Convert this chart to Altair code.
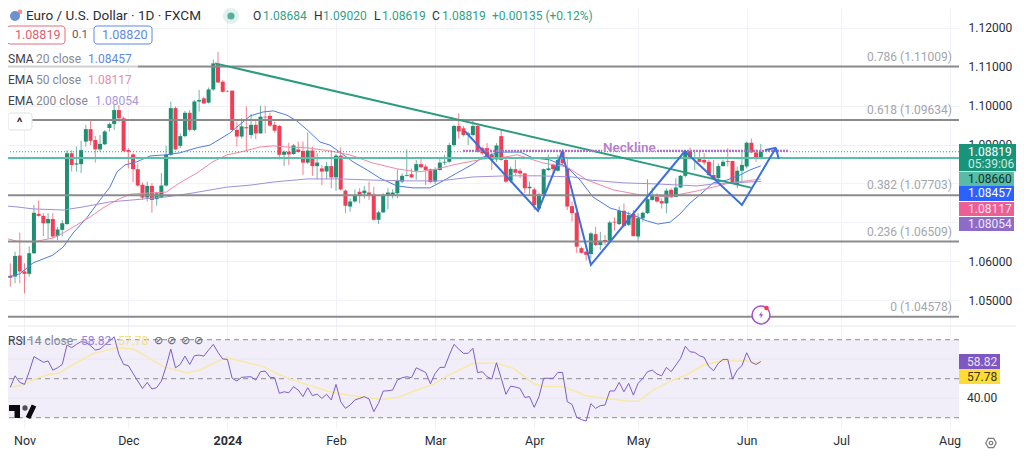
import altair as alt
import pandas as pd

opens = [1.0563,1.0561,1.0615,1.0574,1.0568,1.0621,1.0722,1.0717,1.0698,1.0709,
1.0665,1.0681,1.0696,1.0878,1.0849,1.0850,1.0908,1.0940,1.0912,1.0888,
1.0901,1.0943,1.0953,1.0989,1.0968,1.0886,1.0875,1.0837,1.0797,1.0764,
1.0794,1.0760,1.0764,1.0795,1.0874,1.0994,1.0897,1.0922,1.0982,1.0938,
1.1011,1.1019,1.1008,1.1042,1.1108,1.1062,1.1037,1.1039,1.0938,1.0921,
1.0945,1.0925,1.0951,1.0929,1.0972,1.0974,1.0951,1.0948,1.0874,1.0882,
1.0876,1.0888,1.0884,1.0854,1.0885,1.0845,1.0839,1.0831,1.0845,1.0816,
1.0872,1.0782,1.0741,1.0754,1.0779,1.0775,1.0777,1.0772,1.0707,1.0726,
1.0771,1.0770,1.0775,1.0805,1.0820,1.0824,1.0833,1.0850,1.0844,1.0837,
1.0805,1.0835,1.0854,1.0856,1.0899,1.0948,1.0942,1.0925,1.0925,1.0948,
1.0891,1.0891,1.0874,1.0862,1.0922,1.0861,1.0807,1.0837,1.0833,1.0826,
1.0788,1.0785,1.0736,1.0772,1.0835,1.0848,1.0833,1.0882,1.0839,1.0742,
1.0725,1.0634,1.0625,1.0619,1.0670,1.0642,1.0655,1.0653,1.0702,1.0696,
1.0730,1.0694,1.0722,1.0664,1.0711,1.0724,1.0758,1.0766,1.0755,1.0749,
1.0784,1.0766,1.0790,1.0820,1.0884,1.0867,1.0868,1.0861,1.0856,1.0822,
1.0814,1.0845,1.0858,1.0858,1.0799,1.0833,1.0844,1.0905,1.0880,1.0865]

highs = [1.0595,1.0625,1.0674,1.0595,1.0638,1.0745,1.0756,1.0724,1.0724,1.0724,
1.0689,1.0706,1.0886,1.0886,1.0895,1.0910,1.0951,1.0964,1.0922,1.0925,
1.0938,1.0957,1.1002,1.1002,1.0972,1.0891,1.0878,1.0852,1.0803,1.0805,
1.0801,1.0779,1.0827,1.0897,1.1011,1.0998,1.0929,1.0987,1.0989,1.1015,
1.1041,1.1024,1.1047,1.1119,1.1139,1.1066,1.1040,1.1039,1.0959,1.0968,
1.0998,1.0979,1.0965,1.1000,1.1000,1.0982,1.0959,1.0951,1.0885,1.0905,
1.0902,1.0908,1.0908,1.0931,1.0895,1.0878,1.0848,1.0856,1.0885,1.0876,
1.0893,1.0785,1.0762,1.0785,1.0788,1.0794,1.0805,1.0792,1.0730,1.0775,
1.0788,1.0785,1.0837,1.0826,1.0888,1.0839,1.0861,1.0865,1.0850,1.0839,
1.0842,1.0865,1.0874,1.0904,1.0951,1.0981,1.0948,1.0934,1.0962,1.0951,
1.0895,1.0904,1.0882,1.0904,1.0940,1.0865,1.0844,1.0862,1.0839,1.0828,
1.0805,1.0790,1.0777,1.0839,1.0874,1.0852,1.0874,1.0886,1.0865,1.0754,
1.0728,1.0638,1.0628,1.0676,1.0689,1.0676,1.0668,1.0705,1.0713,1.0741,
1.0749,1.0728,1.0732,1.0724,1.0728,1.0811,1.0790,1.0775,1.0762,1.0788,
1.0788,1.0814,1.0822,1.0885,1.0893,1.0884,1.0885,1.0878,1.0862,1.0861,
1.0852,1.0862,1.0891,1.0859,1.0844,1.0882,1.0908,1.0916,1.0888,1.0902]

lows = [1.0535,1.0544,1.0544,1.0518,1.0561,1.0619,1.0715,1.0665,1.0659,1.0659,
1.0655,1.0664,1.0694,1.0831,1.0831,1.0827,1.0895,1.0899,1.0854,1.0882,
1.0899,1.0934,1.0938,1.0959,1.0882,1.0839,1.0803,1.0792,1.0758,1.0754,
1.0725,1.0743,1.0762,1.0792,1.0871,1.0886,1.0891,1.0919,1.0934,1.0935,
1.0985,1.1005,1.1006,1.1039,1.1058,1.1034,1.1035,1.0936,1.0895,1.0916,
1.0882,1.0916,1.0914,1.0928,1.0929,1.0946,1.0931,1.0862,1.0845,1.0848,
1.0874,1.0880,1.0822,1.0850,1.0820,1.0811,1.0796,1.0811,1.0788,1.0782,
1.0782,1.0724,1.0728,1.0751,1.0749,1.0762,1.0758,1.0705,1.0696,1.0724,
1.0734,1.0762,1.0762,1.0801,1.0818,1.0814,1.0810,1.0839,1.0796,1.0801,
1.0799,1.0833,1.0848,1.0854,1.0895,1.0916,1.0921,1.0899,1.0921,1.0880,
1.0874,1.0865,1.0835,1.0856,1.0859,1.0802,1.0802,1.0822,1.0814,1.0775,
1.0771,1.0732,1.0732,1.0771,1.0833,1.0825,1.0831,1.0848,1.0732,1.0702,
1.0622,1.0621,1.0602,1.0608,1.0640,1.0629,1.0642,1.0651,1.0679,1.0693,
1.0688,1.0691,1.0664,1.0651,1.0702,1.0722,1.0756,1.0751,1.0736,1.0724,
1.0762,1.0765,1.0788,1.0816,1.0861,1.0835,1.0854,1.0848,1.0818,1.0809,
1.0809,1.0844,1.0844,1.0799,1.0788,1.0801,1.0839,1.0878,1.0856,1.0862]

closes = [1.0558,1.0614,1.0574,1.0568,1.0621,1.0725,1.0717,1.0698,1.0709,1.0664,
1.0682,1.0698,1.0878,1.0848,1.0852,1.0886,1.0940,1.0910,1.0888,1.0902,
1.0934,1.0953,1.0989,1.0968,1.0884,1.0882,1.0837,1.0795,1.0764,1.0794,
1.0758,1.0775,1.0795,1.0874,1.0994,1.0888,1.0922,1.0982,1.0938,1.1011,
1.1015,1.1006,1.1042,1.1109,1.1060,1.1036,1.1038,1.0938,1.0921,1.0947,
1.0942,1.0951,1.0929,1.0972,1.0970,1.0949,1.0936,1.0874,1.0882,1.0875,
1.0898,1.0881,1.0854,1.0885,1.0845,1.0854,1.0831,1.0845,1.0816,1.0872,
1.0785,1.0743,1.0754,1.0771,1.0771,1.0782,1.0771,1.0707,1.0726,1.0771,
1.0777,1.0777,1.0808,1.0820,1.0822,1.0816,1.0850,1.0842,1.0835,1.0804,
1.0837,1.0854,1.0856,1.0899,1.0948,1.0934,1.0925,1.0929,1.0948,1.0882,
1.0878,1.0869,1.0861,1.0898,1.0861,1.0805,1.0838,1.0828,1.0826,1.0788,
1.0792,1.0745,1.0772,1.0837,1.0839,1.0837,1.0861,1.0852,1.0741,1.0724,
1.0638,1.0622,1.0617,1.0672,1.0642,1.0653,1.0651,1.0700,1.0700,1.0730,
1.0691,1.0719,1.0665,1.0711,1.0725,1.0760,1.0769,1.0754,1.0749,1.0782,
1.0765,1.0790,1.0820,1.0884,1.0867,1.0868,1.0856,1.0854,1.0822,1.0811,
1.0845,1.0856,1.0856,1.0801,1.0833,1.0848,1.0905,1.0880,1.0865,1.08819]

sma_i = [-0.5,2.0,4.8,9.0,11.2,13.3,16.2,19.0,21.1,22.6,24.3,26.8,29.6,33.0,35.9,39.5,42.3,46.5,50.8,53.5,55.7,58.6,60.7,62.9,65.6,67.7,69.8,72.6,75.6,78.3,81.9,85.3,88.9,91.7,94.6,98.0,100.1,103.7,108,110.7,114.3,117.9,120.7,123.4,127.1,131.3,134.9,137.2,139.8,141.9,144,146.1,148.9,151.8,154.6,156.7,159]
sma_p = [1.0560,1.0568,1.0596,1.0616,1.0637,1.0673,1.0712,1.0758,1.0791,1.0830,1.0848,1.0856,1.0871,1.0874,1.0879,1.0892,1.0899,1.0930,1.0974,1.0984,1.0987,1.0976,1.0961,1.0938,1.0907,1.0899,1.0881,1.0856,1.0835,1.0814,1.0794,1.0789,1.0789,1.0807,1.0827,1.0850,1.0868,1.0881,1.0881,1.0866,1.0861,1.0843,1.0809,1.0766,1.0737,1.0722,1.0704,1.0696,1.0701,1.0722,1.0750,1.0771,1.0802,1.0809,1.0822,1.0835,1.08457]
ema50_i = [-0.5,1.4,4.8,9,11.2,14.1,16.9,19.6,22.6,25.4,29.6,33,35.9,39.5,42.9,45.9,48.7,52.9,55.7,58.6,62.9,67.7,71.9,76.8,81.9,86.2,89.6,93.8,98,101.6,103.7,107.4,112.9,117.9,122.2,127.7,133.4,139.1,145.5,148.9,152.5,156.1,159]
ema50_p = [1.0658,1.0652,1.0650,1.0660,1.0673,1.0694,1.0714,1.0737,1.0758,1.0773,1.0776,1.0778,1.0802,1.0827,1.0856,1.0874,1.0881,1.0894,1.0897,1.0894,1.0892,1.0884,1.0874,1.0853,1.0838,1.0830,1.0835,1.0848,1.0858,1.0866,1.0866,1.0874,1.0853,1.0843,1.0809,1.0784,1.0771,1.0766,1.0781,1.0791,1.0802,1.0807,1.08117]
ema200_i = [-0.5,1.4,4.8,11.2,15.4,21.1,26,33.2,38.7,45.9,50.8,55.7,62.9,69.8,76.8,84,91,98,105.2,112.2,119.2,122.8,129.8,137,145.5,148.9,152.5,159]
ema200_p = [1.0742,1.0740,1.0735,1.0732,1.0740,1.0753,1.0758,1.0766,1.0776,1.0791,1.0796,1.0804,1.0812,1.0812,1.0809,1.0807,1.0807,1.0817,1.0820,1.0820,1.0817,1.0809,1.0802,1.0799,1.0794,1.0799,1.0802,1.08054]

trend_i = [43.4,157.1]
trend_p = [1.1109,1.0789]
zig_i = [96.3,111.8,116.9,123,142.9,155,162.2]
zig_p = [1.0935,1.0730,1.0881,1.0591,1.0883,1.0745,1.0892]
barb_a_i = [159.9,162.2]
barb_a_p = [1.0886,1.0892]
barb_b_i = [162.2,162.8]
barb_b_p = [1.0892,1.0863]
neck_a_i = [95.9,125.4]
neck_b_i = [137,165]
neck_p = 1.0884

fib_prices = [1.11009,1.09634,1.07703,1.06509,1.04578]
fib_labels = ["0.786 (1.11009)","0.618 (1.09634)","0.382 (1.07703)","0.236 (1.06509)","0 (1.04578)"]
level_price = 1.0866
last_price = 1.08819

price_ticks = [1.12,1.11,1.10,1.09,1.06,1.05]
hidden_grid = [1.08,1.07]
month_ticks = [3,25,46,69,90,111,133,156,176,199]
month_labels = ["Nov","Dec","2024","Feb","Mar","Apr","May","Jun","Jul","Aug"]

rsi_vals = [45.6,51.5,48.1,47.1,53.6,61.3,59.9,58.4,59.1,54.4,55.6,57.3,67.3,65.9,67.6,69.0,68.6,66.9,64.7,65.2,67.3,69.3,71.5,62.5,57.3,56.7,52.7,48.8,45.0,48.1,44.7,45.4,48.8,56.2,65.2,55.6,57.3,61.6,57.3,61.8,62.1,61.6,64.7,67.6,63.5,60.1,59.9,50.2,48.8,50.7,50.9,51.0,49.3,53.6,53.9,50.7,50.5,42.5,43.3,42.8,45.9,44.2,40.8,45.4,41.3,42.1,39.9,42.0,39.1,47.1,38.2,34.8,36.5,39.1,39.9,40.8,39.6,33.1,37.4,43.7,43.8,44.2,49.3,
50.5,51,50.5,55.6,54.4,53.2,47.4,52.7,55.8,55.8,62.1,67.6,65.2,63,63,65.6,53.1,53.6,51,49.8,58.2,50.2,42,46.2,45.7,45,40.4,40.8,35.3,40.8,50.2,50.2,50.2,53.2,53.2,38.2,36.8,30.2,29,28.3,37.2,34.8,36.2,36.5,43.7,43.7,48.1,43.3,47.6,41.6,47.6,50.2,53.6,54.4,52.4,51.5,55.8,53.6,57,60.4,66.6,63.8,63.5,61.8,60.9,56.2,54.1,57.9,59.9,59.9,49.8,54.4,56.7,63.3,58.4,57.3,58.82]
rsi_ma_i = [-0.1,2.8,5.6,8.1,10.5,13.3,17.6,22.5,26.1,28.9,32.4,37.4,40.2,43,45.8,49.4,53.6,57.1,61.4,67.7,71.3,75.5,79,82.6,86.1,89.6,93.2,98.1,103.1,106.6,110.8,112.9,117.2,122.1,126.4,131.2,133.1,136.2,140.5,143.3,146.8,150.4,156,159]
rsi_ma_v = [45.6,46.8,50.2,52.2,53.1,57.3,63.0,65.9,65.2,61.3,56.2,53.1,54.4,57.9,60.9,58.7,56.2,51.9,48.1,43.3,41.6,40.3,39.4,40.8,44.2,47.1,52.2,57.9,57.9,55.3,47.6,46.1,45.9,41.1,39.9,38.5,38.5,44.2,49.5,51.9,57,59.1,59.2,57.78]

FONT = "Roboto"
UP, DOWN = "#1f8f74", "#ef3e55"
X_DOM = [-0.494, 200.99]
P_DOM = [1.01717, 1.12514]
R_DOM = [24.72, 240.1]
PW, PH = 951, 420
HEAD_Y = 16

xs = alt.Scale(domain=X_DOM, nice=False, zero=False, padding=0)
ps = alt.Scale(domain=P_DOM, nice=False, zero=False)
rs = alt.Scale(domain=R_DOM, nice=False, zero=False)

def X(f="i"):
    return alt.X(f"{f}:Q", scale=xs, axis=None)
def P(f="p"):
    return alt.Y(f"{f}:Q", scale=ps, axis=None)
def R(f="v"):
    return alt.Y(f"{f}:Q", scale=rs, axis=None)

def line(i, v, color, width, Yf=P, field="p", **kw):
    d = pd.DataFrame({"i": i, field: v})
    return alt.Chart(d).mark_line(color=color, strokeWidth=width, clip=False, **kw).encode(
        x=X(), y=Yf(field))

def hrule(price, color, width, **kw):
    return alt.Chart(pd.DataFrame({"p": [price]})).mark_rule(color=color, strokeWidth=width, **kw).encode(y=P())

def txt(s, px, py, color, size=12, align="left", **kw):
    return alt.Chart(pd.DataFrame({"t": [s]})).mark_text(
        font=FONT, fontSize=size, color=color, align=align, baseline="middle", **kw
    ).encode(x=alt.value(px - 8), y=alt.value(py - 8), text="t:N")

def box(x0, y0, x1, y1, **kw):
    return alt.Chart(pd.DataFrame({"a": [0]})).mark_rect(**kw).encode(
        x=alt.value(x0 - 8), x2=alt.value(x1 - 8), y=alt.value(y0 - 8), y2=alt.value(y1 - 8))

def seg(x0, y0, x1, y1, color, width):
    return alt.Chart(pd.DataFrame({"a": [0]})).mark_rule(color=color, strokeWidth=width).encode(
        x=alt.value(x0 - 8), x2=alt.value(x1 - 8), y=alt.value(y0 - 8), y2=alt.value(y1 - 8))

def pt(px, py, **kw):
    return alt.Chart(pd.DataFrame({"a": [0]})).mark_point(**kw).encode(
        x=alt.value(px - 8), y=alt.value(py - 8))

candles = pd.DataFrame({"i": range(len(opens)), "o": opens, "h": highs, "l": lows, "c": closes})
candles["dir"] = ["up" if c >= o else "down" for o, c in zip(opens, closes)]
dir_color = alt.Color("dir:N", scale=alt.Scale(domain=["up", "down"], range=[UP, DOWN]), legend=None)

label_expr = "{" + ",".join(f"{t}:'{l}'" for t, l in zip(month_ticks, month_labels)) + "}[datum.value]"
axes_layer = alt.Chart(pd.DataFrame({"i": [0], "p": [1.09]})).mark_point(opacity=0).encode(
    x=alt.X("i:Q", scale=xs, title=None, axis=alt.Axis(
        values=month_ticks, ticks=False, domain=False, labelPadding=6, labelFont=FONT, labelFontSize=12.5,
        labelColor="#2a2e39", grid=True, gridColor="#f0f2f7", gridWidth=1, labelFlush=False, labelOverlap=False,
        labelFontWeight={"condition": {"test": "datum.value == 46", "value": "bold"}, "value": "normal"},
        labelExpr=label_expr)),
    y=alt.Y("p:Q", scale=ps, title=None, axis=alt.Axis(
        orient="right", values=price_ticks, format=".5f", ticks=False, domain=False, labelPadding=9,
        labelFont=FONT, labelFontSize=12, labelColor="#2a2e39", grid=True, gridColor="#f0f2f7", labelOverlap=False)),
)
hidden_rules = alt.Chart(pd.DataFrame({"p": hidden_grid})).mark_rule(color="#f0f2f7", strokeWidth=1).encode(y=P())

wicks = alt.Chart(candles).mark_rule(strokeWidth=1, opacity=0.65).encode(x=X(), y=P("h"), y2="l:Q", color=dir_color)
bodies = alt.Chart(candles).mark_bar(size=4).encode(x=X(), y=P("o"), y2="c:Q", color=dir_color)

fib_df = pd.DataFrame({"p": fib_prices, "t": fib_labels})
fib_rules = alt.Chart(fib_df).mark_rule(color="#8b8b8b", strokeWidth=2).encode(y=P())
fib_text = alt.Chart(fib_df).mark_text(font=FONT, fontSize=12, color="#a3a6ad", align="right", dy=-10).encode(
    x=alt.value(944), y=P(), text="t:N")

tag_top = [1.0902,1.0830,1.0794,1.0753,1.0714]
tag_bot = [1.0832,1.0794,1.0755,1.0717,1.0678]
tag_col = ["#1a9479","#57bba5","#2962ff","#ec5f94","#8d6cc8"]
tag_right = [1016,1014,1014,1014,1014]
tag_rects = [alt.Chart(pd.DataFrame({"t": [a], "b": [b]})).mark_rect(color=c).encode(
    x=alt.value(951), x2=alt.value(r - 8), y=P("t"), y2="b:Q")
    for a, b, c, r in zip(tag_top, tag_bot, tag_col, tag_right)]
tag_txt = pd.DataFrame({
    "p": [1.0881,1.0850,1.0812,1.0775,1.0735,1.0696],
    "t": ["1.08819","05:39:06","1.08660","1.08457","1.08117","1.08054"],
    "c": ["#ffffff","#c9ebe2","#10332b","#ffffff","#ffe3ee","#efe8fb"],
})
tag_text = alt.Chart(tag_txt).mark_text(font=FONT, fontSize=12, align="left").encode(
    x=alt.value(960), y=P(), text="t:N", color=alt.Color("c:N", scale=None))

price_layers = [axes_layer, hidden_rules, wicks, bodies,
    line(sma_i, sma_p, "#4d7ce0", 1), line(ema50_i, ema50_p, "#ee8aa5", 1), line(ema200_i, ema200_p, "#a28fd8", 1),
    hrule(last_price, "#2a9d86", 1, strokeDash=[1, 2]),
    hrule(level_price, "#5cc0a8", 2),
    fib_rules, fib_text,
    line(trend_i, trend_p, "#2d9b7f", 2),
    line(neck_a_i, [neck_p, neck_p], "#b06fc9", 2.2, strokeDash=[2, 1]),
    line(neck_b_i, [neck_p, neck_p], "#b06fc9", 2.2, strokeDash=[2, 1]),
    line(zig_i, zig_p, "#3b6fdc", 2),
    line(barb_a_i, barb_a_p, "#3b6fdc", 2),
    line(barb_b_i, barb_b_p, "#3b6fdc", 2),
    alt.Chart(pd.DataFrame({"p": [neck_p], "t": ["Neckline"]})).mark_text(
        font=FONT, fontSize=13.5, fontWeight=600, color="#b57fcb", align="left", dy=-3).encode(
        x=alt.value(595), y=P(), text="t:N"),
] + tag_rects + [tag_text]

rsi_df = pd.DataFrame({"i": range(len(rsi_vals)), "v": rsi_vals})
rsi_band = alt.Chart(pd.DataFrame({"v": [70], "w": [30]})).mark_rect(color="#f1edf9").encode(
    x=alt.value(0), x2=alt.value(PW), y=R("v"), y2="w:Q")
rsi_faint = alt.Chart(pd.DataFrame({"v": [60, 40]})).mark_rule(color="#e9e7f1").encode(y=R())
rsi_dash = alt.Chart(pd.DataFrame({"v": [70, 50, 30]})).mark_rule(color="#8a8d96", strokeDash=[5, 4]).encode(y=R())
rsi_tag = alt.Chart(pd.DataFrame({"a": [62.7, 55.0], "b": [55.0, 47.3], "c": ["#7e57c2", "#fddc35"]})).mark_rect().encode(
    x=alt.value(951), x2=alt.value(992), y=R("a"), y2="b:Q", color=alt.Color("c:N", scale=None))
rsi_tagtxt = alt.Chart(pd.DataFrame({"v": [58.82, 51.1, 40], "t": ["58.82", "57.78", "40.00"], "c": ["#e9e2f8", "#3a3414", "#2a2e39"]})).mark_text(
    font=FONT, fontSize=12, align="left").encode(x=alt.value(959), y=R(), text="t:N", color=alt.Color("c:N", scale=None))

rsi_layers = [rsi_band, rsi_faint, rsi_dash,
    line(rsi_ma_i, rsi_ma_v, "#f8e9a6", 1.5, Yf=R, field="v"),
    alt.Chart(rsi_df).mark_line(color="#7e5fc4", strokeWidth=1).encode(x=X(), y=R()),
    rsi_tag, rsi_tagtxt]

ui = [
    box(0, 46, 138, 68, color="#ffffff", opacity=0.6),
    seg(0, 326, 1016, 326, "#e6e8ee", 1),
    pt(15, HEAD_Y, filled=True, color="#2d64bb", size=100),
    pt(20, HEAD_Y - 4, filled=True, color="#e56a6a", size=24),
    txt("Euro / U.S. Dollar · 1D · FXCM", 26, HEAD_Y, "#2a2e39", 13.5),
    pt(231, HEAD_Y, filled=True, color="#1a9479", size=260, opacity=0.12),
    pt(231, HEAD_Y, filled=True, color="#1a9479", size=50),
    txt("O", 253, HEAD_Y, "#2a2e39"), txt("1.08684", 263, HEAD_Y, "#2fa287"),
    txt("H", 314, HEAD_Y, "#2a2e39"), txt("1.09020", 323, HEAD_Y, "#2fa287"),
    txt("L", 374, HEAD_Y, "#2a2e39"), txt("1.08619", 382, HEAD_Y, "#2fa287"),
    txt("C", 432, HEAD_Y, "#2a2e39"), txt("1.08819", 442, HEAD_Y, "#2fa287"),
    txt("+0.00135 (+0.12%)", 492, HEAD_Y, "#2fa287"),
    box(7, 26, 65, 44, fill="#ffffff", stroke="#e0717d", cornerRadius=3, strokeWidth=1),
    txt("1.08819", 15, 35, "#e0606e", 12.5),
    txt("0.1", 72, 35, "#555a66", 11.5),
    box(94, 26, 152, 44, fill="#ffffff", stroke="#5f88e6", cornerRadius=3, strokeWidth=1),
    txt("1.08820", 102, 35, "#5f88e6", 12.5),
    txt("SMA", 8, 59, "#3c404a"), txt("20 close", 36, 59, "#868993"), txt("1.08457", 88, 59, "#5f88e6"),
    txt("EMA", 8, 80, "#3c404a"), txt("50 close", 36, 80, "#868993"), txt("1.08117", 88, 80, "#ea8aa8"),
    txt("EMA", 8, 101, "#3c404a"), txt("200 close", 36, 101, "#868993"), txt("1.08054", 95, 101, "#a796d8"),
    box(8, 113, 32, 130, fill="#ffffff", stroke="#dfe1e6", cornerRadius=3, strokeWidth=1),
    txt("^", 19.5, 123, "#2a2e39", 13, align="center", fontWeight="bold"),
    txt("RSI", 8, 341, "#3c404a"), txt("14 close", 28, 341, "#868993"),
    txt("58.82", 81, 341, "#9c86d6"), txt("57.78", 118, 341, "#f1e08a"),
] + [txt("⊘", x, 341, "#555a66", 11, align="center") for x in (158, 171, 185, 198)] + [
    box(9, 405, 20, 411, color="#0b0b0f"), box(14.5, 405, 20, 418, color="#0b0b0f"),
    pt(25, 408, filled=True, color="#0b0b0f", size=28),
    seg(34, 405.5, 28, 418, "#0b0b0f", 5),
    pt(761, 315, filled=True, fill="#ffffff", stroke="#a64fc9", strokeWidth=1.5, opacity=1, size=320),
    pt(761, 315, filled=True, color="#a64fc9", opacity=1, size=50,
       shape="M.2,-1L-.6,.15L-.05,.15L-.2,1L.6,-.2L.05,-.2Z"),
    pt(766.5, 308, filled=True, color="#ef3e55", size=22, opacity=1),
    pt(991, 443, filled=False, color="#444", shape="M-1,0L-.5,-.87L.5,-.87L1,0L.5,.87L-.5,.87Z", size=110, strokeWidth=1.2),
    pt(991, 443, filled=False, color="#444", size=12, strokeWidth=1.2),
]

def group(items):
    return alt.layer(*items).resolve_axis(x="independent", y="independent")

chart = alt.layer(
    group(price_layers),
    group(rsi_layers),
    alt.layer(*ui),
).resolve_scale(y="independent").resolve_axis(x="independent", y="independent").properties(
    width=PW, height=PH,
    padding={"left": 0, "top": 0, "right": 57, "bottom": 21},
    autosize=alt.AutoSizeParams(type="none"),
    background="#ffffff",
).configure_view(stroke=None)

assert len(opens) == len(highs) == len(lows) == len(closes) == 160
assert len(rsi_vals) == 160

chart.save("out.html", embed_options={"renderer": "svg", "actions": False})
